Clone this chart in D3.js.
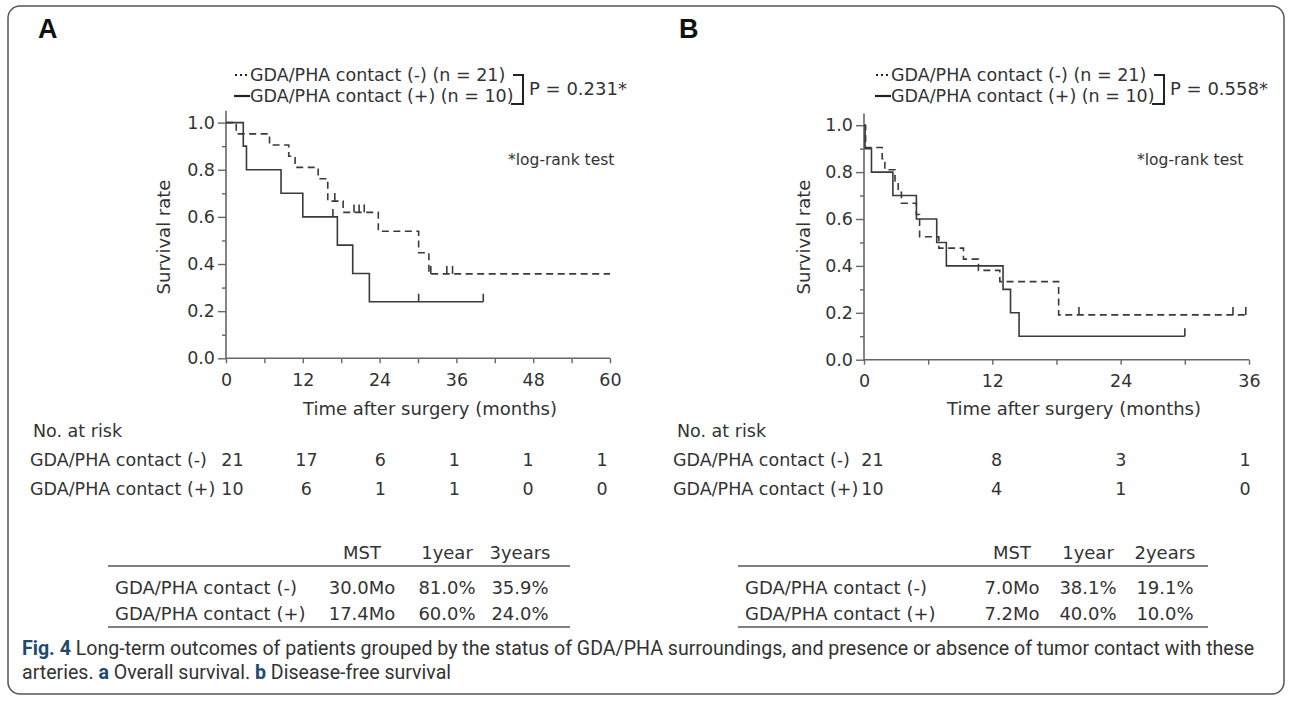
<!DOCTYPE html>
<html><head><meta charset="utf-8">
<script src="https://cdn.jsdelivr.net/npm/d3@7"></script>
<style>body{margin:0;background:#fff}</style>
</head><body><svg id="c" width="1292" height="702"></svg>
<script>
// ---------- data ----------
const yTickValues = [0, 0.2, 0.4, 0.6, 0.8, 1.0];
const yMinorValues = [0.1, 0.3, 0.5, 0.7, 0.9];
const osTickValues = [0, 12, 24, 36, 48, 60];
const dfsTickValues = [0, 12, 24, 36];
const groupLegend = ["GDA/PHA contact (-) (n = 21)", "GDA/PHA contact (+) (n = 10)"];
const groupLabels = ["GDA/PHA contact (-)", "GDA/PHA contact (+)"];
const pLabels = ["P = 0.231*", "P = 0.558*"];
const panelLetters = ["A", "B"];

// Overall survival (A): [time, survival]
const osNegSteps = [[0,1],[1.6,0.952],[6.8,0.905],[9.8,0.857],[10.8,0.810],[14.4,0.762],[15.9,0.667],[18.3,0.619],[23.8,0.539],[30.1,0.448],[31.7,0.358],[60,0.358]];
const osNegCensor = [17.0, 20.0, 20.8, 21.6, 32.0, 34.5, 35.4];
const osPosSteps = [[0,1],[2.7,0.9],[3.2,0.8],[8.6,0.7],[12.0,0.6],[17.4,0.48],[19.8,0.36],[22.4,0.24],[40.2,0.24]];
const osPosCensor = [16.7, 30.1, 40.2];
// Disease-free survival (B)
const dfsNegSteps = [[0,1],[0.15,0.905],[1.7,0.857],[1.95,0.810],[2.9,0.762],[3.2,0.714],[3.5,0.667],[4.9,0.619],[5.2,0.524],[7.0,0.476],[9.3,0.429],[10.7,0.381],[12.7,0.333],[18.2,0.191],[36,0.191]];
const dfsNegCensor = [20.1, 34.5, 35.7];
const dfsPosSteps = [[0,1],[0.1,0.9],[0.7,0.8],[2.7,0.7],[4.9,0.6],[6.8,0.5],[7.7,0.4],[13.0,0.3],[13.7,0.2],[14.5,0.1],[30.0,0.1]];
const dfsPosCensor = [30.0];

// Numbers at risk
const osRiskNeg = [21, 17, 6, 1, 1, 1];
const osRiskPos = [10, 6, 1, 1, 0, 0];
const dfsRiskNeg = [21, 8, 3, 1];
const dfsRiskPos = [10, 4, 1, 0];

// Summary tables
const osStatHeader = ["MST", "1year", "3years"];
const osStatNeg = ["30.0Mo", "81.0%", "35.9%"];
const osStatPos = ["17.4Mo", "60.0%", "24.0%"];
const dfsStatHeader = ["MST", "1year", "2years"];
const dfsStatNeg = ["7.0Mo", "38.1%", "19.1%"];
const dfsStatPos = ["7.2Mo", "40.0%", "10.0%"];

const captionLine1 = ["Fig. 4", " Long-term outcomes of patients grouped by the status of GDA/PHA surroundings, and presence or absence of tumor contact with these"];
const captionLine2 = ["arteries. ", "a", " Overall survival. ", "b", " Disease-free survival"];

// ---------- drawing ----------
const svg = d3.select("#c");
const FONT = "'DejaVu Sans', Verdana, sans-serif";
const TXT = "#333";
const AX = "#666";
const CURVE = "#3a3a3a";

svg.append("rect").attr("x", 8).attr("y", 6).attr("width", 1276).attr("height", 688)
  .attr("rx", 12).attr("fill", "#fff").attr("stroke", "#555").attr("stroke-width", 1.5);

const panels = [
  { letter: panelLetters[0], lx: 38, xr: [226, 610], yr: [358.3, 122.6], dom: [0, 60], ticks: osTickValues,
    neg: osNegSteps, negC: osNegCensor, pos: osPosSteps, posC: osPosCensor, p: pLabels[0],
    legX: 235, logX: 508, survX: 164, timeX: 430,
    risk: [osRiskNeg, osRiskPos], riskLabX: 30, noRiskX: 33, riskR: [232.5, 602],
    stat: { h: osStatHeader, r: [osStatNeg, osStatPos], labX: 115, cols: [362, 447, 520], line: [108, 570] } },
  { letter: panelLetters[1], lx: 679, xr: [864, 1249], yr: [359.7, 125.2], dom: [0, 36], ticks: dfsTickValues,
    neg: dfsNegSteps, negC: dfsNegCensor, pos: dfsPosSteps, posC: dfsPosCensor, p: pLabels[1],
    legX: 876, logX: 1137, survX: 804, timeX: 1074,
    risk: [dfsRiskNeg, dfsRiskPos], riskLabX: 673, noRiskX: 677, riskR: [872.5, 1245],
    stat: { h: dfsStatHeader, r: [dfsStatNeg, dfsStatPos], labX: 745, cols: [1012, 1088, 1165], line: [738, 1208] } }
];

function survAt(steps, t) {
  let s = steps[0][1];
  for (const d of steps) { if (d[0] <= t) s = d[1]; }
  return s;
}

panels.forEach(P => {
  const g = svg.append("g");
  const x = d3.scaleLinear().domain(P.dom).range(P.xr);
  const y = d3.scaleLinear().domain([0, 1]).range(P.yr);

  g.append("text").attr("x", P.lx).attr("y", 38).text(P.letter)
    .attr("font-family", "'Liberation Sans', Arial, sans-serif").attr("font-weight", "bold")
    .attr("font-size", 27).attr("fill", "#111");

  // y axis
  const yAx = g.append("g").attr("transform", `translate(${P.xr[0]},0)`)
    .call(d3.axisLeft(y).tickValues(yTickValues).tickFormat(d3.format(".1f")).tickSize(8).tickPadding(3));
  const yMin = g.append("g").attr("transform", `translate(${P.xr[0]},0)`)
    .call(d3.axisLeft(y).tickValues(yMinorValues).tickFormat("").tickSize(4));
  [yAx, yMin].forEach(a => { a.select(".domain").remove(); a.selectAll("line").attr("stroke", AX).attr("stroke-width", 1.4); });
  yAx.selectAll("text").attr("font-family", FONT).attr("font-size", 17.5).attr("fill", TXT);
  g.append("line").attr("x1", P.xr[0]).attr("x2", P.xr[0]).attr("y1", y(0)).attr("y2", y(1.05))
    .attr("stroke", AX).attr("stroke-width", 1.6);

  // x axis
  const allX = d3.range(P.dom[0], P.dom[1] + 0.01, 6);
  const xAx = g.append("g").attr("transform", `translate(0,${y(0)})`)
    .call(d3.axisBottom(x).tickValues(allX).tickFormat(d => (P.ticks.includes(d) ? d : "")).tickSize(5).tickPadding(10));
  xAx.select(".domain").remove();
  xAx.selectAll("line").attr("stroke", AX).attr("stroke-width", 1.4);
  xAx.selectAll("text").attr("font-family", FONT).attr("font-size", 17.5).attr("fill", TXT);
  g.append("line").attr("x1", P.xr[0]).attr("x2", P.xr[1]).attr("y1", y(0)).attr("y2", y(0))
    .attr("stroke", AX).attr("stroke-width", 1.6);

  // curves
  const line = d3.line().x(d => x(d[0])).y(d => y(d[1])).curve(d3.curveStepAfter);
  g.append("path").attr("d", line(P.neg)).attr("fill", "none").attr("stroke", CURVE)
    .attr("stroke-width", 1.6).attr("stroke-dasharray", "7,4.5");
  g.append("path").attr("d", line(P.pos)).attr("fill", "none").attr("stroke", CURVE).attr("stroke-width", 1.6);
  const cens = (arr, steps) => arr.forEach(t => {
    const s = survAt(steps, t);
    g.append("line").attr("x1", x(t)).attr("x2", x(t)).attr("y1", y(s)).attr("y2", y(s) - 8)
      .attr("stroke", CURVE).attr("stroke-width", 1.6);
  });
  cens(P.negC, P.neg); cens(P.posC, P.pos);

  // legend
  const l1 = 75, l2 = 96;
  g.append("line").attr("x1", P.legX).attr("x2", P.legX + 14).attr("y1", l1).attr("y2", l1)
    .attr("stroke", "#222").attr("stroke-width", 2).attr("stroke-dasharray", "2,3");
  g.append("line").attr("x1", P.legX - 1).attr("x2", P.legX + 15).attr("y1", l2).attr("y2", l2)
    .attr("stroke", "#222").attr("stroke-width", 2.2);
  [l1, l2].forEach((yy, i) => g.append("text").attr("x", P.legX + 15).attr("y", yy).attr("dy", "0.35em")
    .text(groupLegend[i]).attr("font-family", FONT).attr("font-size", 17.5).attr("fill", TXT));
  const bx = P.legX + 288;
  g.append("path").attr("d", `M${bx - 10},${l1} H${bx} V${l2 + 8} H${bx - 12}`)
    .attr("fill", "none").attr("stroke", "#222").attr("stroke-width", 2);
  g.append("text").attr("x", bx + 6).attr("y", (l1 + l2) / 2 + 3).attr("dy", "0.35em").text(P.p)
    .attr("font-family", FONT).attr("font-size", 18).attr("fill", TXT);

  g.append("text").attr("x", P.logX).attr("y", 160).attr("dy", "0.35em").text("*log-rank test")
    .attr("font-family", FONT).attr("font-size", 15.5).attr("fill", TXT);

  g.append("text").attr("transform", `translate(${P.survX},237) rotate(-90)`).attr("text-anchor", "middle")
    .attr("dy", "0.35em").text("Survival rate").attr("font-family", FONT).attr("font-size", 18).attr("fill", TXT);
  g.append("text").attr("x", P.timeX).attr("y", 409).attr("text-anchor", "middle").attr("dy", "0.35em")
    .text("Time after surgery (months)").attr("font-family", FONT).attr("font-size", 18).attr("fill", TXT);

  // numbers at risk
  g.append("text").attr("x", P.noRiskX).attr("y", 431).attr("dy", "0.35em").text("No. at risk")
    .attr("font-family", FONT).attr("font-size", 17.5).attr("fill", TXT);
  const rx = d3.scaleLinear().domain(P.dom).range(P.riskR);
  const step = P.ticks[1] - P.ticks[0];
  P.risk.forEach((row, i) => {
    const yy = i === 0 ? 460 : 489;
    g.append("text").attr("x", P.riskLabX).attr("y", yy).attr("dy", "0.35em").text(groupLabels[i])
      .attr("font-family", FONT).attr("font-size", 17.5).attr("fill", TXT);
    row.forEach((v, j) => g.append("text").attr("x", rx(j * step)).attr("y", yy).attr("dy", "0.35em")
      .attr("text-anchor", "middle").text(v).attr("font-family", FONT).attr("font-size", 17.5).attr("fill", TXT));
  });

  // summary table
  const S = P.stat;
  S.h.forEach((h, j) => g.append("text").attr("x", S.cols[j]).attr("y", 553).attr("dy", "0.35em")
    .attr("text-anchor", "middle").text(h).attr("font-family", FONT).attr("font-size", 18).attr("fill", TXT));
  g.append("line").attr("x1", S.line[0]).attr("x2", S.line[1]).attr("y1", 566).attr("y2", 566)
    .attr("stroke", "#555").attr("stroke-width", 1.4);
  S.r.forEach((row, i) => {
    const yy = i === 0 ? 588 : 614;
    g.append("text").attr("x", S.labX).attr("y", yy).attr("dy", "0.35em").text(groupLabels[i])
      .attr("font-family", FONT).attr("font-size", 18).attr("fill", TXT);
    row.forEach((v, j) => g.append("text").attr("x", S.cols[j]).attr("y", yy).attr("dy", "0.35em")
      .attr("text-anchor", "middle").text(v).attr("font-family", FONT).attr("font-size", 18).attr("fill", TXT));
  });
  g.append("line").attr("x1", S.line[0]).attr("x2", S.line[1]).attr("y1", 627).attr("y2", 627)
    .attr("stroke", "#555").attr("stroke-width", 1.4);
});

// caption
const CAPF = "Roboto, 'Liberation Sans', sans-serif";
const c1 = svg.append("text").attr("x", 22).attr("y", 655).attr("font-family", CAPF).attr("font-size", 16).attr("fill", "#333");
c1.append("tspan").attr("font-weight", "bold").attr("fill", "#1d4a6e").text(captionLine1[0]);
c1.append("tspan").text(captionLine1[1]);
const c2 = svg.append("text").attr("x", 22).attr("y", 679).attr("font-family", CAPF).attr("font-size", 16).attr("fill", "#333");
captionLine2.forEach((s, i) => c2.append("tspan").attr("font-weight", i === 1 || i === 3 ? "bold" : null)
  .attr("fill", i === 1 || i === 3 ? "#1d4a6e" : null).text(s));
const w = c1.node().getComputedTextLength();
const fs = 16 * 1233 / w;
c1.attr("font-size", fs); c2.attr("font-size", fs);
</script></body></html>
